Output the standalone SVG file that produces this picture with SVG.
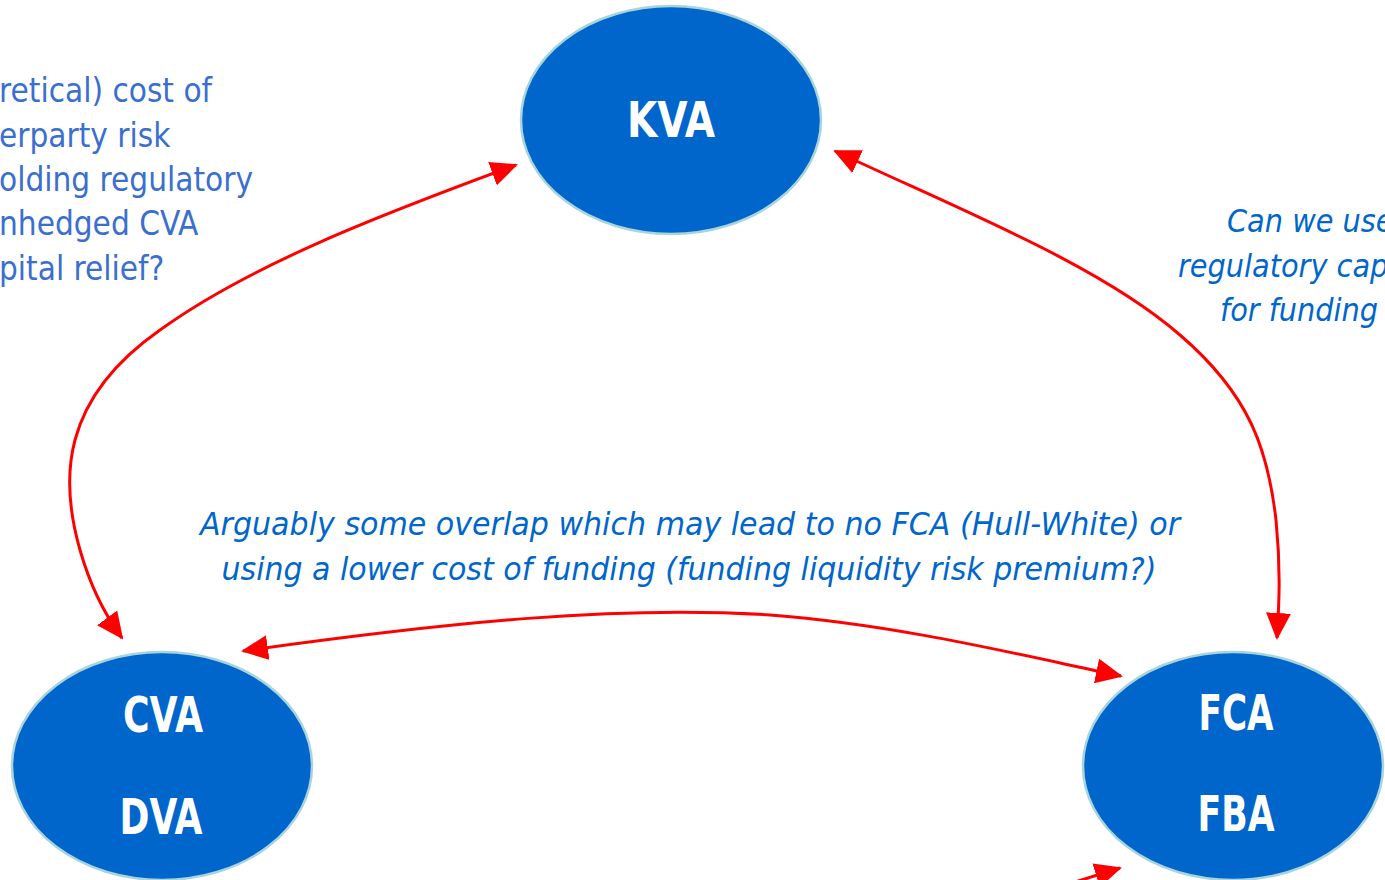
<svg xmlns="http://www.w3.org/2000/svg" width="1385" height="880" viewBox="0 0 1385 880">
<style>
.node{fill:#0066CC;stroke:#A8D4DC;stroke-width:2.5}
.lbl{font-family:"DejaVu Sans Condensed","DejaVu Sans",sans-serif;font-weight:bold;font-size:50px;fill:#fff;text-anchor:middle}
.note{font-family:"DejaVu Sans Condensed","DejaVu Sans",sans-serif;font-size:32px;fill:#0066CC}
.side{font-family:"DejaVu Sans Condensed","DejaVu Sans",sans-serif;font-size:33px;fill:#3A6FD0}
.conn{fill:none;stroke:#FF0000;stroke-width:3}
</style>
<defs>
<marker id="a" viewBox="0 0 27 25" refX="25" refY="12.5" markerWidth="27" markerHeight="25" markerUnits="userSpaceOnUse" orient="auto-start-reverse">
<path d="M0,0 L27,12.5 L0,25 z" fill="#FF0000"/>
</marker>
</defs>
<g id="texts">
<text class="side" x="-1" y="102">retical) cost of</text>
<text class="side" x="-1" y="147">erparty risk</text>
<text class="side" x="-1" y="191">olding regulatory</text>
<text class="side" x="-1" y="235">nhedged CVA</text>
<text class="side" x="-1" y="280">pital relief?</text>
<text class="note" font-style="italic" x="1227" y="232" font-size="33">Can we use</text>
<text class="note" font-style="italic" x="1178" y="277" font-size="33">regulatory cap</text>
<text class="note" font-style="italic" x="1220" y="321" font-size="33">for funding</text>
<text class="note" font-style="italic" x="690" y="535" text-anchor="middle" textLength="980" lengthAdjust="spacingAndGlyphs">Arguably some overlap which may lead to no FCA (Hull-White) or</text>
<text class="note" font-style="italic" x="689" y="580" text-anchor="middle" textLength="935" lengthAdjust="spacingAndGlyphs">using a lower cost of funding (funding liquidity risk premium?)</text>
</g>
<g id="connectors">
<path class="conn" marker-start="url(#a)" marker-end="url(#a)" d="M516,165 C380,215 250,265 160,330 C60,400 60,480 80,550 C90,585 105,615 122,638"/>
<path class="conn" marker-start="url(#a)" marker-end="url(#a)" d="M835,151 C960,210 1100,265 1180,335 C1250,395 1268,450 1276,520 C1281,570 1279,605 1277,638"/>
<path class="conn" marker-start="url(#a)" marker-end="url(#a)" d="M243,651 C450,622 620,605 770,615 C900,625 1020,655 1121,676"/>
<path class="conn" marker-end="url(#a)" d="M1075,882 L1120,868"/>
</g>
<g id="kva">
<ellipse class="node" cx="671" cy="120" rx="150" ry="114"/>
<text class="lbl" x="671" y="137" textLength="88" lengthAdjust="spacingAndGlyphs">KVA</text>
</g>
<g id="cva">
<ellipse class="node" cx="162" cy="766" rx="150" ry="114"/>
<text class="lbl" x="163" y="732" textLength="80" lengthAdjust="spacingAndGlyphs">CVA</text>
<text class="lbl" x="161" y="834" textLength="83" lengthAdjust="spacingAndGlyphs">DVA</text>
</g>
<g id="fca">
<ellipse class="node" cx="1233" cy="766" rx="150" ry="114"/>
<text class="lbl" x="1236" y="730" textLength="75" lengthAdjust="spacingAndGlyphs">FCA</text>
<text class="lbl" x="1236" y="831" textLength="77" lengthAdjust="spacingAndGlyphs">FBA</text>
</g>
</svg>
